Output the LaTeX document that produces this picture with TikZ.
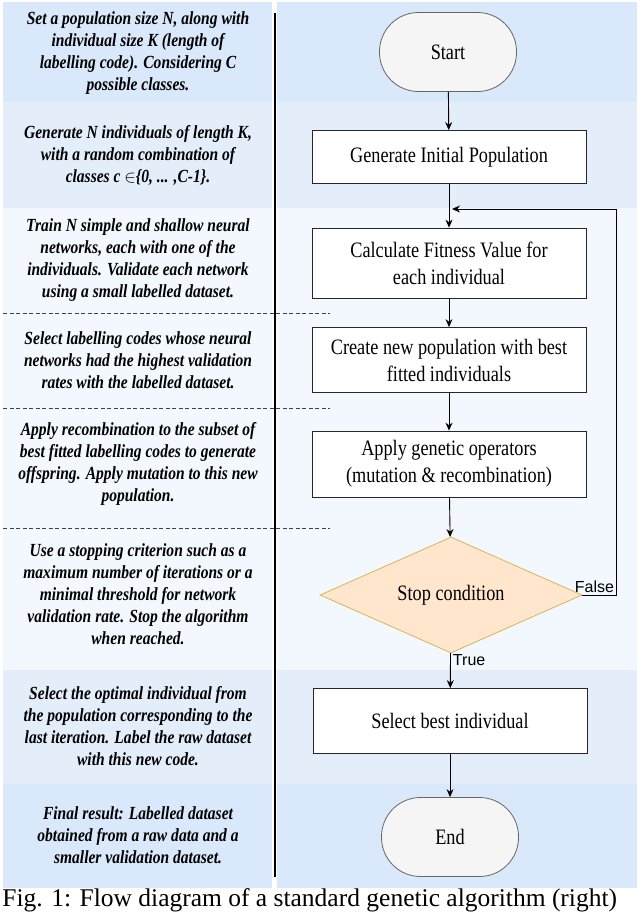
\documentclass[tikz,border=0pt]{standalone}
\usepackage{fontspec}
\usepackage{xcolor}
\usepackage{tikz}
\usetikzlibrary{arrows.meta,shapes.geometric}
\setmainfont{Liberation Serif}
\newfontfamily\boxfont[FakeStretch=0.83]{Liberation Serif}
\newfontfamily\notefont[FakeStretch=0.84]{Liberation Serif}
\newfontfamily\labelfont{Liberation Sans}
\definecolor{banddark}{HTML}{DAE8FC}
\definecolor{bandmid}{HTML}{E4EEFB}
\definecolor{bandlight}{HTML}{F3F8FE}
\definecolor{termfill}{HTML}{F5F5F5}
\definecolor{termline}{HTML}{666666}
\definecolor{condfill}{HTML}{FFE6CC}
\definecolor{condline}{HTML}{D6B656}

\begin{document}
\begin{tikzpicture}[x=1pt,y=-1pt,thick]
				\tikzset{note text/.style={align=center,inner sep=0pt,
						font=\notefont\bfseries\itshape\fontsize{18.5}{22}\selectfont}}
				\tikzset{step box/.style={draw=black!85,fill=white,minimum width=274pt,align=center,
						font=\boxfont\fontsize{22}{27}\selectfont}}
				\tikzset{term box/.style={draw=termline,fill=termfill,minimum width=137pt,minimum height=79pt,
						rounded corners=39pt,font=\boxfont\fontsize{22}{27}\selectfont}}
				\tikzset{flow arrow/.style={-{Stealth[length=8pt,width=7pt]},line width=0.9pt}}
				\useasboundingbox (0,0) rectangle (640,913);
				\clip (0,0) rectangle (640,913);

				\foreach \top/\bot/\col in {2/102/banddark,102/208/bandmid,208/670/bandlight,670/784/bandmid,784/888/banddark}{
						\fill[\col] (3,\top) rectangle (272,\bot);
						\fill[\col] (277,\top) rectangle (637,\bot);
					}
				\foreach \y in {313,408,528}
				\draw[black!75,line width=0.8pt,dash pattern=on 4pt off 2.5pt] (3,\y) -- (330,\y);
				\draw[line width=2pt] (274.5,13) -- (274.5,877);

				\node[note text] (set size) at (138,53) {Set a population size N, along with\\ individual size K (length of\\ labelling code). Considering C\\ possible classes.};
				\node[note text] (gen note) at (138,155) {Generate N individuals of length K,\\ with a random combination of\\ classes c $\in$\{0, ... ,C-1\}.};
				\node[note text] (train note) at (138,260) {Train N simple and shallow neural\\ networks, each with one of the\\ individuals. Validate each network\\ using a small labelled dataset.};
				\node[note text] (select note) at (138,360) {Select labelling codes whose neural\\ networks had the highest validation\\ rates with the labelled dataset.};
				\node[note text] (apply note) at (138,464) {Apply recombination to the subset of\\ best fitted labelling codes to generate\\ offspring. Apply mutation to this new\\ population.};
				\node[note text] (stop note) at (138,594) {Use a stopping criterion such as a\\ maximum number of iterations or a\\ minimal threshold for network\\ validation rate. Stop the algorithm\\ when reached.};
				\node[note text] (best note) at (138,726) {Select the optimal individual from\\ the population corresponding to the\\ last iteration. Label the raw dataset\\ with this new code.};
				\node[note text] (final note) at (138,835) {Final result: Labelled dataset\\ obtained from a raw data and a\\ smaller validation dataset.};

				\node[term box] (start) at (448,52) {Start};
				\node[step box,minimum height=53pt] (init pop) at (449,157) {Generate Initial Population};
				\node[step box,minimum height=70pt] (fitness) at (449,263) {Calculate Fitness Value for\\ each individual};
				\node[step box,minimum height=65pt] (new pop) at (449,360) {Create new population with best\\ fitted individuals};
				\node[step box,minimum height=66pt] (operators) at (449,464) {Apply genetic operators\\ (mutation \& recombination)};
				\node[diamond,draw=condline,fill=condfill,minimum width=262pt,minimum height=116pt,inner sep=0pt,
					aspect=2.26,font=\boxfont\fontsize{22}{27}\selectfont] (stop cond) at (451,595) {Stop condition};
				\node[step box,minimum height=65pt] (best ind) at (450,721) {Select best individual};
				\node[term box] (end) at (450,837) {End};

				\coordinate (loop top) at (616,209);
				\coordinate (loop in) at (452,209);

				\draw[flow arrow] (start) -- (init pop);
				\draw[flow arrow] (init pop) -- (fitness);
				\draw[flow arrow] (fitness) -- (new pop);
				\draw[flow arrow] (new pop) -- (operators);
				\draw[flow arrow] (operators) -- (stop cond);
				\draw[flow arrow] (stop cond) -- node[pos=0,anchor=north west,inner sep=1pt,xshift=1pt,
					font=\labelfont\fontsize{16}{18}\selectfont]{True}(best ind);
				\draw[flow arrow] (best ind) -- (end);
				\draw[flow arrow] (stop cond.east) -- node[pos=1,anchor=south east,inner sep=1.5pt,
					font=\labelfont\fontsize{16}{18}\selectfont]{False}(stop cond.east -| loop top) |- (loop in);

				\node[anchor=base west,inner sep=0pt,font=\fontsize{25.5}{28}\selectfont] (caption) at (2,906.5)
				{Fig. 1: Flow diagram of a standard genetic algorithm (right)};
			\end{tikzpicture}
\end{document}
